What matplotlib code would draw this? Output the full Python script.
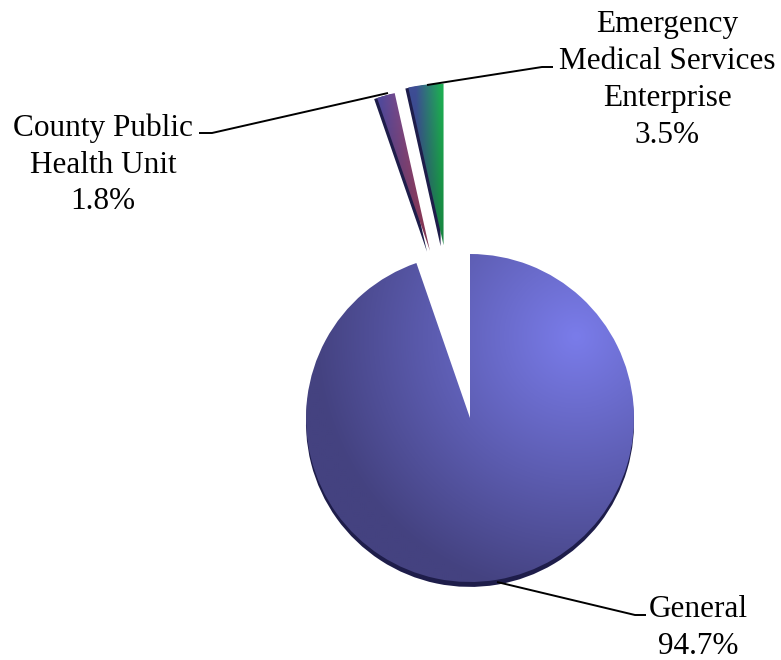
import matplotlib.pyplot as plt
import numpy as np
from matplotlib.path import Path
from matplotlib.patches import PathPatch

labels = ['General', 'County Public\nHealth Unit', 'Emergency\nMedical Services\nEnterprise']
values = [94.7, 1.8, 3.5]
explode = [0.0, 1.06, 1.06]

# pixel layout helpers (pie radius 164 px, centre at 470, 418)
R_PX = 164.0
CX, CY = 470.0, 418.0
W, H = 781, 660


def px(x, y):
    return (x - CX) / R_PX, (CY - y) / R_PX


def lerp(c0, c1, t):
    c0 = np.array(c0) / 255.0
    c1 = np.array(c1) / 255.0
    t = np.clip(t, 0, 1)[..., None]
    return c0 * (1 - t) + c1 * t


def general_fill(X, Y):
    d = np.hypot(X - 0.65, Y - 0.5) / 1.6
    light = (122, 124, 234)
    mid = (92, 92, 176)
    dark = (68, 66, 128)
    out = np.where((d < 0.55)[..., None],
                   lerp(light, mid, d / 0.55),
                   lerp(mid, dark, (d - 0.55) / 0.45))
    return out


def county_fill(X, Y):
    t = (X - X.min()) / (X.max() - X.min())
    base = lerp((84, 74, 156), (172, 72, 112), t * 1.3 - 0.1)
    fade = np.clip((Y - Y.min()) / (Y.max() - Y.min()), 0, 1)
    return base * (0.72 + 0.28 * fade[..., None])


def ems_fill(X, Y):
    t = (X - X.min()) / (X.max() - X.min())
    base = lerp((62, 78, 150), (30, 175, 84), t * 1.4 - 0.3)
    fade = np.clip((Y - Y.min()) / (Y.max() - Y.min()), 0, 1)
    return base * (0.75 + 0.25 * fade[..., None])


fills = [general_fill, county_fill, ems_fill]
# rim offset and sideways nudge for each slice (pie radius units)
rim = [(0.0, -0.03), (-0.018, -0.006), (-0.018, -0.006)]
nudge = [0.0, 0.045, -0.045]

fig = plt.figure(figsize=(W / 100, H / 100), dpi=100)
ax = fig.add_axes([0, 0, 1, 1])
x0, y1 = px(0, 0)
x1, y0 = px(W, H)

wedges, _ = ax.pie(values, explode=explode, startangle=90, counterclock=False,
                   radius=0.985, center=(0, 0), wedgeprops=dict(linewidth=0))
wedges[0].set_radius(1.0)

for w, fill, off, dx in zip(wedges, fills, rim, nudge):
    cx, cy = w.center
    w.set_center((cx + dx, cy))
    path = w.get_path()
    sh = PathPatch(Path(path.vertices + np.array(off), path.codes),
                   facecolor='#1e1d4a', edgecolor='none', zorder=1)
    ax.add_patch(sh)
    w.set_zorder(2)
    w.set_facecolor('none')
    bb = path.get_extents()
    xs = np.linspace(bb.x0, bb.x1, 300)
    ys = np.linspace(bb.y0, bb.y1, 300)
    X, Y = np.meshgrid(xs, ys)
    img = ax.imshow(fill(X, Y), extent=(bb.x0, bb.x1, bb.y0, bb.y1),
                    origin='lower', interpolation='bilinear', zorder=2)
    img.set_clip_path(w)

ax.set_xlim(x0, x1)
ax.set_ylim(y0, y1)
ax.set_aspect('equal')
ax.axis('off')

font = dict(family='Liberation Serif', fontsize=22.5, ha='center', va='center',
            linespacing=1.35, color='black')

pcts = ['%.1f%%' % v for v in values]
text_pos = [px(698, 628), px(103, 165), px(667, 80)]
for lab, pct, pos in zip(labels, pcts, text_pos):
    ax.text(pos[0], pos[1], lab + '\n' + pct, zorder=5, **font)

leaders = [
    [px(497, 582), px(635, 615), px(646, 615)],
    [px(388, 93), px(212, 133), px(199, 133)],
    [px(427, 85), px(542, 67), px(553, 67)],
]
for pts in leaders:
    pts = np.array(pts)
    ax.plot(pts[:, 0], pts[:, 1], color='black', lw=1.4, zorder=4,
            solid_capstyle='butt')

fig.savefig('out.png', dpi=100)
